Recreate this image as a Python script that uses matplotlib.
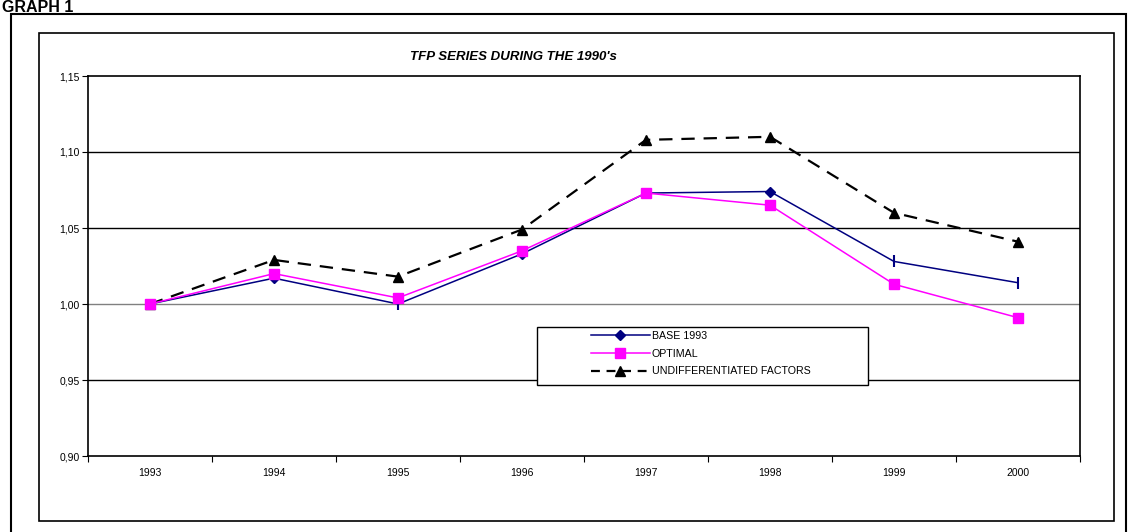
import numpy as np
import matplotlib.pyplot as plt
from matplotlib.patches import Rectangle
from matplotlib.lines import Line2D

plt.rcParams['font.family'] = ['Liberation Sans', 'DejaVu Sans']

years = ['1993', '1994', '1995', '1996', '1997', '1998', '1999', '2000']
base_1993 = [1.000, 1.017, 1.000, 1.033, 1.073, 1.074, 1.028, 1.014]
optimal = [1.000, 1.020, 1.004, 1.035, 1.073, 1.065, 1.013, 0.991]
undiff = [1.000, 1.029, 1.018, 1.049, 1.108, 1.110, 1.060, 1.041]
labels = ['BASE 1993', 'OPTIMAL', 'UNDIFFERENTIATED FACTORS']

W, H = 1128, 532
fig = plt.figure(figsize=(W / 100, H / 100), dpi=100)

def fx(px):
    return px / W

def fy(py):
    return 1 - py / H

# frames (outer page box and chart area)
fig.patches.append(Rectangle((fx(11), fy(545)), fx(1126) - fx(11), fy(14) - fy(545),
                             transform=fig.transFigure, fill=False, lw=1.5, ec='black'))
fig.patches.append(Rectangle((fx(38.5), fy(520.5)), fx(1114) - fx(38.5), fy(33) - fy(520.5),
                             transform=fig.transFigure, fill=False, lw=1.2, ec='black'))
fig.text(fx(2), fy(12), 'GRAPH 1', fontsize=11.5, fontweight='bold', va='baseline', ha='left')
fig.text(fx(513), fy(60), "TFP SERIES DURING THE 1990's", fontsize=9.5, fontweight='bold',
         style='italic', va='baseline', ha='center')

ax = fig.add_axes([fx(88), fy(456), fx(1080) - fx(88), fy(76) - fy(456)])
x = np.arange(len(years))

for v, c in [(0.95, 'black'), (1.00, '#808080'), (1.05, 'black'), (1.10, 'black')]:
    ax.axhline(v, color=c, lw=1.0, zorder=1)

ax.plot(x, undiff, color='black', lw=1.6, ls=(0, (6, 4)), marker='^', ms=7, mfc='black', mec='black', zorder=3)
ax.plot(x, base_1993, color='#000080', lw=1.1, zorder=3)
ax.plot(x, base_1993, ls='none', marker='D', ms=5, color='#000080', markevery=[0, 1, 3, 4, 5], zorder=3)
ax.plot(x, base_1993, ls='none', marker='|', ms=9, mew=1.5, color='#000080', markevery=[2, 6, 7], zorder=3)
ax.plot(x, optimal, color='#FF00FF', lw=1.1, marker='s', ms=7, mfc='#FF00FF', mec='#FF00FF', zorder=4)

ax.set_xlim(-0.5, len(years) - 0.5)
ax.set_ylim(0.90, 1.15)
ax.set_yticks([0.90, 0.95, 1.00, 1.05, 1.10, 1.15])
ax.set_yticklabels(['0,90', '0,95', '1,00', '1,05', '1,10', '1,15'])
ax.set_xticks(x)
ax.set_xticklabels(years)
ax.set_xticks(np.arange(-0.5, len(years)), minor=True)
ax.tick_params(axis='x', which='major', length=0, pad=9, labelsize=7.5)
ax.tick_params(axis='x', which='minor', length=4, direction='out', width=0.8)
ax.tick_params(axis='y', length=4, direction='out', width=0.8, labelsize=7.5, pad=2)
for s in ax.spines.values():
    s.set_linewidth(1.2)

# legend box, drawn wider than its content like the original
fig.patches.append(Rectangle((fx(536.5), fy(385)), fx(867.5) - fx(536.5), fy(327) - fy(385),
                             transform=fig.transFigure, fill=True, fc='white', lw=1.0, ec='black',
                             zorder=5))
handles = [
    Line2D([], [], color='#000080', lw=1.1, marker='D', ms=5),
    Line2D([], [], color='#FF00FF', lw=1.1, marker='s', ms=7),
    Line2D([], [], color='black', lw=1.6, ls=(0, (4, 3)), marker='^', ms=7),
]
leg = fig.legend(handles, labels, loc='upper left', bbox_to_anchor=(fx(591), fy(331)),
                 fontsize=7.7, frameon=False, handlelength=5.5, handletextpad=0.2,
                 borderpad=0, labelspacing=0.72, borderaxespad=0)
leg.set_zorder(6)

fig.savefig('out.png', dpi=100)
